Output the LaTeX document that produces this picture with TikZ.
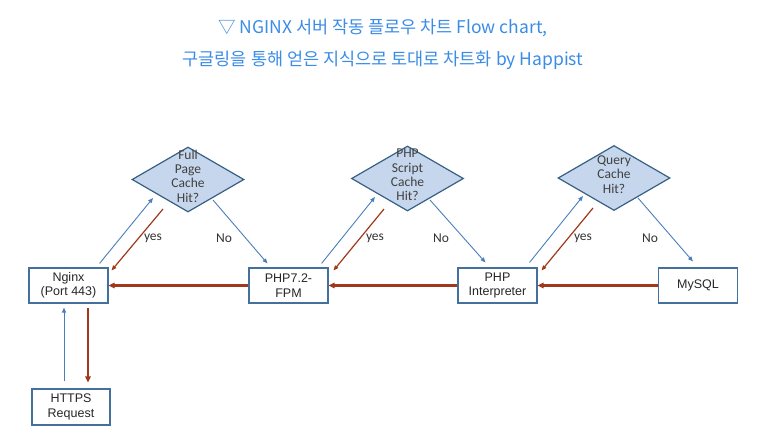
\documentclass[tikz,border=0pt]{standalone}
\usepackage{fontspec}
\setmainfont{Liberation Sans}
\newfontfamily\krfont{Noto Sans CJK KR}
\newfontfamily\calfont{Carlito}
\usepackage{tikz}
\usetikzlibrary{positioning,arrows.meta,shapes.geometric}

\definecolor{titleblue}{RGB}{58,140,230}
\definecolor{boxline}{RGB}{65,113,156}
\definecolor{diafill}{RGB}{198,214,236}
\definecolor{flowblue}{RGB}{74,126,187}
\definecolor{flowred}{RGB}{160,56,28}

\begin{document}
\begin{tikzpicture}[x=1pt, y=-1pt,
  box/.style={draw=boxline, line width=1.1pt, align=center, font=\fontsize{12.5}{14.5}\selectfont,
              text=black!85, minimum width=79pt, minimum height=35pt, inner sep=1pt},
  dia/.style={diamond, draw=boxline!85!black, line width=1.2pt, fill=diafill, aspect=1.72,
              minimum width=112pt, minimum height=65pt, inner sep=0pt},
  dtxt/.style={align=center, text=black!75, font=\calfont\fontsize{13.5}{14.4}\selectfont, inner sep=0pt},
  lbl/.style={text=black!80, font=\calfont\fontsize{13.5}{14}\selectfont, inner sep=0pt},
  go/.style={-{Triangle[length=5pt, width=4pt]}, draw=flowblue, line width=0.9pt},
  back/.style={-{Triangle[length=5pt, width=4pt]}, draw=flowred, line width=1.2pt},
  ret/.style={-{Triangle[length=6pt, width=5.5pt]}, draw=flowred, line width=2.2pt}]
\useasboundingbox (0,0) rectangle (766,437);

% title
\node[align=center, text=titleblue, font=\krfont\fontsize{17.5}{32}\selectfont] (title) at (383,44)
  {▽ NGINX 서버 작동 플로우 차트 Flow chart,\\구글링을 통해 얻은 지식으로 토대로 차트화 by Happist};

% boxes
\node[box] (ngx) at (68.5,285.5) {Nginx\\(Port 443)};
\node[box] (fpm) at (288.5,285.5) {PHP7.2-\\FPM};
\node[box] (php) at (497.5,285.5) {PHP\\Interpreter};
\node[box] (sql) at (698,285.5)   {MySQL};
\node[box, minimum width=78pt, minimum height=36pt] (req) at (71,407) {HTTPS\\Request};

% cache checks
\node[dia] (q1) at (188,179.5) {};
\node[dtxt] (q1t) at (188,176) {Full\\Page\\Cache\\Hit?};
\node[dia] (q2) at (407.5,178.5) {};
\node[dtxt] (q2t) at (407.5,175) {PHP\\Script\\Cache\\Hit?};
\node[dia] (q3) at (614,178) {};
\node[dtxt] (q3t) at (614,174.5) {Query\\Cache\\Hit?};

% full page cache
\draw[go]   ([shift={(-9,-4)}]ngx.north east) -- ([shift={(-35,18.5)}]q1.center);
\draw[back] ([shift={(-25,29.5)}]q1.center) -- ([shift={(3,3)}]ngx.north east);
\draw[go]   ([shift={(25,20.5)}]q1.center) -- ([shift={(19,-4)}]fpm.north west);
\node[lbl] (y1) at (153,238) {yes};
\node[lbl] (n1) at (224,238) {No};

% php script cache
\draw[go]   ([shift={(-7,-4)}]fpm.north east) -- ([shift={(-32.5,18.5)}]q2.center);
\draw[back] ([shift={(-23.5,30.5)}]q2.center) -- ([shift={(5,3)}]fpm.north east);
\draw[go]   ([shift={(22.5,21.5)}]q2.center) -- ([shift={(28,-5)}]php.north west);
\node[lbl] (y2) at (375,238) {yes};
\node[lbl] (n2) at (441,238) {No};

% query cache
\draw[go]   ([shift={(-8,-5)}]php.north east) -- ([shift={(-31,18)}]q3.center);
\draw[back] ([shift={(-21,30)}]q3.center) -- ([shift={(4,3)}]php.north east);
\draw[go]   ([shift={(24,20)}]q3.center) -- ([shift={(35,-6)}]sql.north west);
\node[lbl] (y3) at (583,238) {yes};
\node[lbl] (n3) at (650,238) {No};

% responses
\draw[ret] (fpm.west) -- (ngx.east);
\draw[ret] (php.west) -- (fpm.east);
\draw[ret] (sql.west) -- (php.east);
\draw[go]  ([shift={(-7,-7)}]req.north) -- ([shift={(-4.5,4)}]ngx.south);
\draw[ret] ([shift={(19.5,4)}]ngx.south) -- ([shift={(17,-6)}]req.north);
\end{tikzpicture}
\end{document}
